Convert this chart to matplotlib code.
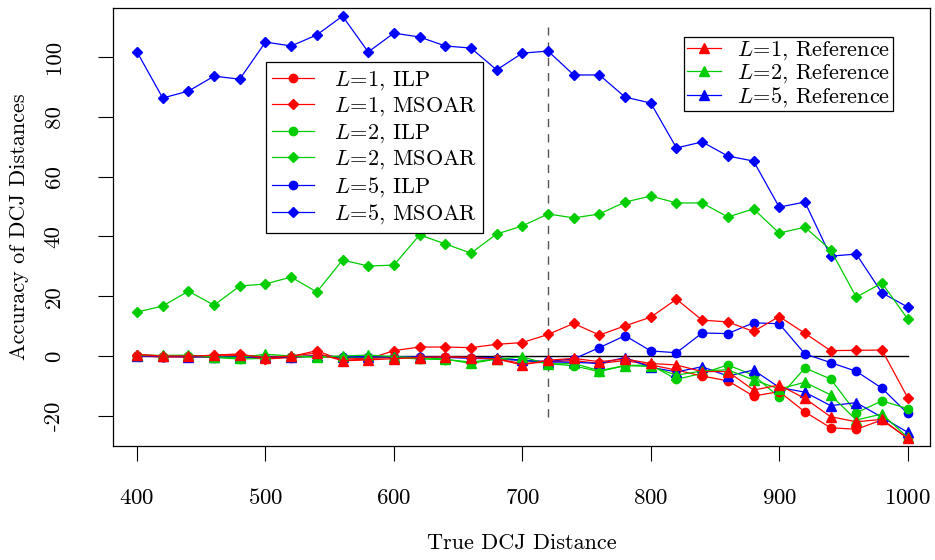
import matplotlib
matplotlib.use('Agg')
import matplotlib.pyplot as plt

plt.rcParams['font.family'] = ['cmr10', 'DejaVu Serif']
plt.rcParams['mathtext.fontset'] = 'cm'
plt.rcParams['axes.unicode_minus'] = False
plt.rcParams['axes.formatter.use_mathtext'] = True

dist = [400, 420, 440, 460, 480, 500, 520, 540, 560, 580, 600, 620, 640, 660, 680, 700,
        720, 740, 760, 780, 800, 820, 840, 860, 880, 900, 920, 940, 960, 980, 1000]

# ILP
l1_ilp = [0, -0.3, -0.3, -0.2, 0.2, -1.0, -0.5, 0.2, -1.0, -0.8, -0.5, -0.5, -0.3, -0.5, -1.0, -2.5,
          -2.0, -1.5, -2.5, -1.5, -3.0, -4.7, -6.7, -8.3, -13.4, -11.9, -18.7, -24.0, -24.5, -21.4, -27.5]
l2_ilp = [0, -0.2, 0, -0.5, -1.0, -0.8, -0.3, -0.3, -0.5, -0.5, -0.5, -1.0, -1.2, -2.0, -1.0, -1.3,
          -2.5, -3.3, -5.2, -3.2, -3.0, -7.8, -5.8, -3.0, -6.4, -13.8, -4.0, -7.7, -19.0, -15.0, -17.6]
l5_ilp = [0, -0.2, -0.3, -0.2, -0.4, -0.5, -0.3, 0, -0.3, -0.2, -0.3, -0.4, -0.4, -0.8, -1.0, -1.5,
          -1.8, -1.0, 2.8, 6.8, 1.7, 1.1, 7.7, 7.5, 11.1, 10.8, 0.7, -2.2, -5.1, -10.8, -19.2]

# MSOAR
l1_msoar = [0.5, 0, -0.2, 0.3, 0.7, -1.0, -0.2, 1.8, -1.5, -1.0, 1.8, 3.0, 3.0, 2.8, 3.9, 4.5,
            7.2, 10.9, 7.0, 10.1, 13.0, 19.0, 12.0, 11.4, 8.2, 13.2, 7.6, 1.8, 1.9, 2.0, -13.9]
l2_msoar = [14.7, 16.7, 21.7, 17.0, 23.4, 24.1, 26.4, 21.4, 32.1, 30.1, 30.4, 40.5, 37.5, 34.4, 40.8, 43.5,
            47.5, 46.2, 47.5, 51.5, 53.5, 51.2, 51.2, 46.5, 49.2, 41.1, 43.1, 35.5, 19.7, 24.4, 12.4]
l5_msoar = [101.7, 86.3, 88.6, 93.6, 92.6, 105.0, 103.7, 107.4, 113.7, 101.7, 108.0, 106.7, 103.7, 103.0, 95.7, 101.3,
            102.0, 94.0, 94.0, 86.6, 84.6, 69.6, 71.6, 66.9, 65.2, 49.8, 51.5, 33.4, 34.1, 21.1, 16.4]

# Reference
l1_ref = [0.5, 0, 0, 0.2, 0.5, -0.5, 0, 1.0, -1.6, -1.3, -0.9, -0.5, -0.3, -0.5, -1.0, -3.0,
          -1.4, -0.8, -1.9, -1.0, -2.5, -3.0, -5.2, -5.2, -11.4, -9.7, -14.2, -20.3, -22.0, -21.2, -27.5]
l2_ref = [0.3, 0.2, 0.3, -0.3, -0.5, 0.6, 0, -0.3, 0, 0.3, -0.2, -0.6, -1.0, -2.5, -1.0, -0.3,
          -2.7, -2.5, -4.9, -3.2, -3.5, -6.4, -5.0, -4.6, -8.0, -11.0, -8.8, -13.0, -21.4, -19.4, -27.2]
l5_ref = [0, 0, -0.2, -0.2, -0.3, -0.3, -0.3, 0, -0.3, -0.3, -0.3, -0.3, -0.5, -0.5, -0.5, -1.5,
          -2.0, -2.1, -2.5, -0.5, -3.8, -5.3, -3.6, -6.7, -4.7, -10.5, -12.1, -16.6, -15.6, -20.5, -25.5]

red, green, blue = '#FF0000', '#00CD00', '#0000FF'

fig = plt.figure(figsize=(9.35, 5.6), dpi=100)
ax = fig.add_axes([113 / 935, 1 - 446 / 560, 817 / 935, 438 / 560])

ax.plot([400, 1000], [0, 0], color='black', lw=1, zorder=1)
ax.plot([720, 720], [-20.4, 110], color='#555555', lw=1, ls=(0, (6, 5)), zorder=1)

kw = dict(lw=0.9, zorder=2)
h = {}
for name, ys, c in [('L5', l5_ilp, blue), ('L2', l2_ilp, green), ('L1', l1_ilp, red)]:
    h[name + 'ilp'], = ax.plot(dist, ys, color=c, marker='o', ms=6, **kw)
for name, ys, c in [('L5', l5_msoar, blue), ('L2', l2_msoar, green), ('L1', l1_msoar, red)]:
    h[name + 'msoar'], = ax.plot(dist, ys, color=c, marker='D', ms=5.5, **kw)
for name, ys, c in [('L5', l5_ref, blue), ('L2', l2_ref, green), ('L1', l1_ref, red)]:
    h[name + 'ref'], = ax.plot(dist, ys, color=c, marker='^', ms=7, **kw)

ax.set_xlim(381.3, 1017.4)
ax.set_ylim(-30.1, 116.4)
ax.set_xticks([400, 500, 600, 700, 800, 900, 1000])
ax.set_yticks([-20, 0, 20, 40, 60, 80, 100])
ax.set_yticklabels(['-20', '0', '20', '40', '60', '80', '100'], rotation=90, va='center')
ax.tick_params(direction='out', length=10.5, width=0.8, labelsize=16.5)
ax.tick_params(axis='x', pad=20)
ax.tick_params(axis='y', pad=25)
for s in ax.spines.values():
    s.set_linewidth(0.9)

ax.set_xlabel('True DCJ Distance', fontsize=16, labelpad=18)
ax.set_ylabel('Accuracy of DCJ Distances', fontsize=16, labelpad=11)

leg_kw = dict(loc='upper left', fontsize=16, fancybox=False, framealpha=1, edgecolor='black',
              borderaxespad=0)
leg1 = ax.legend([h['L1ilp'], h['L1msoar'], h['L2ilp'], h['L2msoar'], h['L5ilp'], h['L5msoar']],
                 ['$L\\!=\\!1$, ILP', '$L\\!=\\!1$, MSOAR', '$L\\!=\\!2$, ILP', '$L\\!=\\!2$, MSOAR',
                  '$L\\!=\\!5$, ILP', '$L\\!=\\!5$, MSOAR'],
                 bbox_to_anchor=(0.187, 0.876), labelspacing=0.17, borderpad=0.3,
                 handlelength=1.85, handletextpad=0.9, **leg_kw)
leg1.get_frame().set_linewidth(0.9)
ax.add_artist(leg1)
leg2 = ax.legend([h['L1ref'], h['L2ref'], h['L5ref']],
                 ['$L\\!=\\!1$, Reference', '$L\\!=\\!2$, Reference', '$L\\!=\\!5$, Reference'],
                 bbox_to_anchor=(0.699, 0.934), labelspacing=0.0, borderpad=0.12,
                 handlelength=1.55, handletextpad=0.72, **leg_kw)
leg2.get_frame().set_linewidth(0.9)

fig.savefig('out.png', dpi=100)
